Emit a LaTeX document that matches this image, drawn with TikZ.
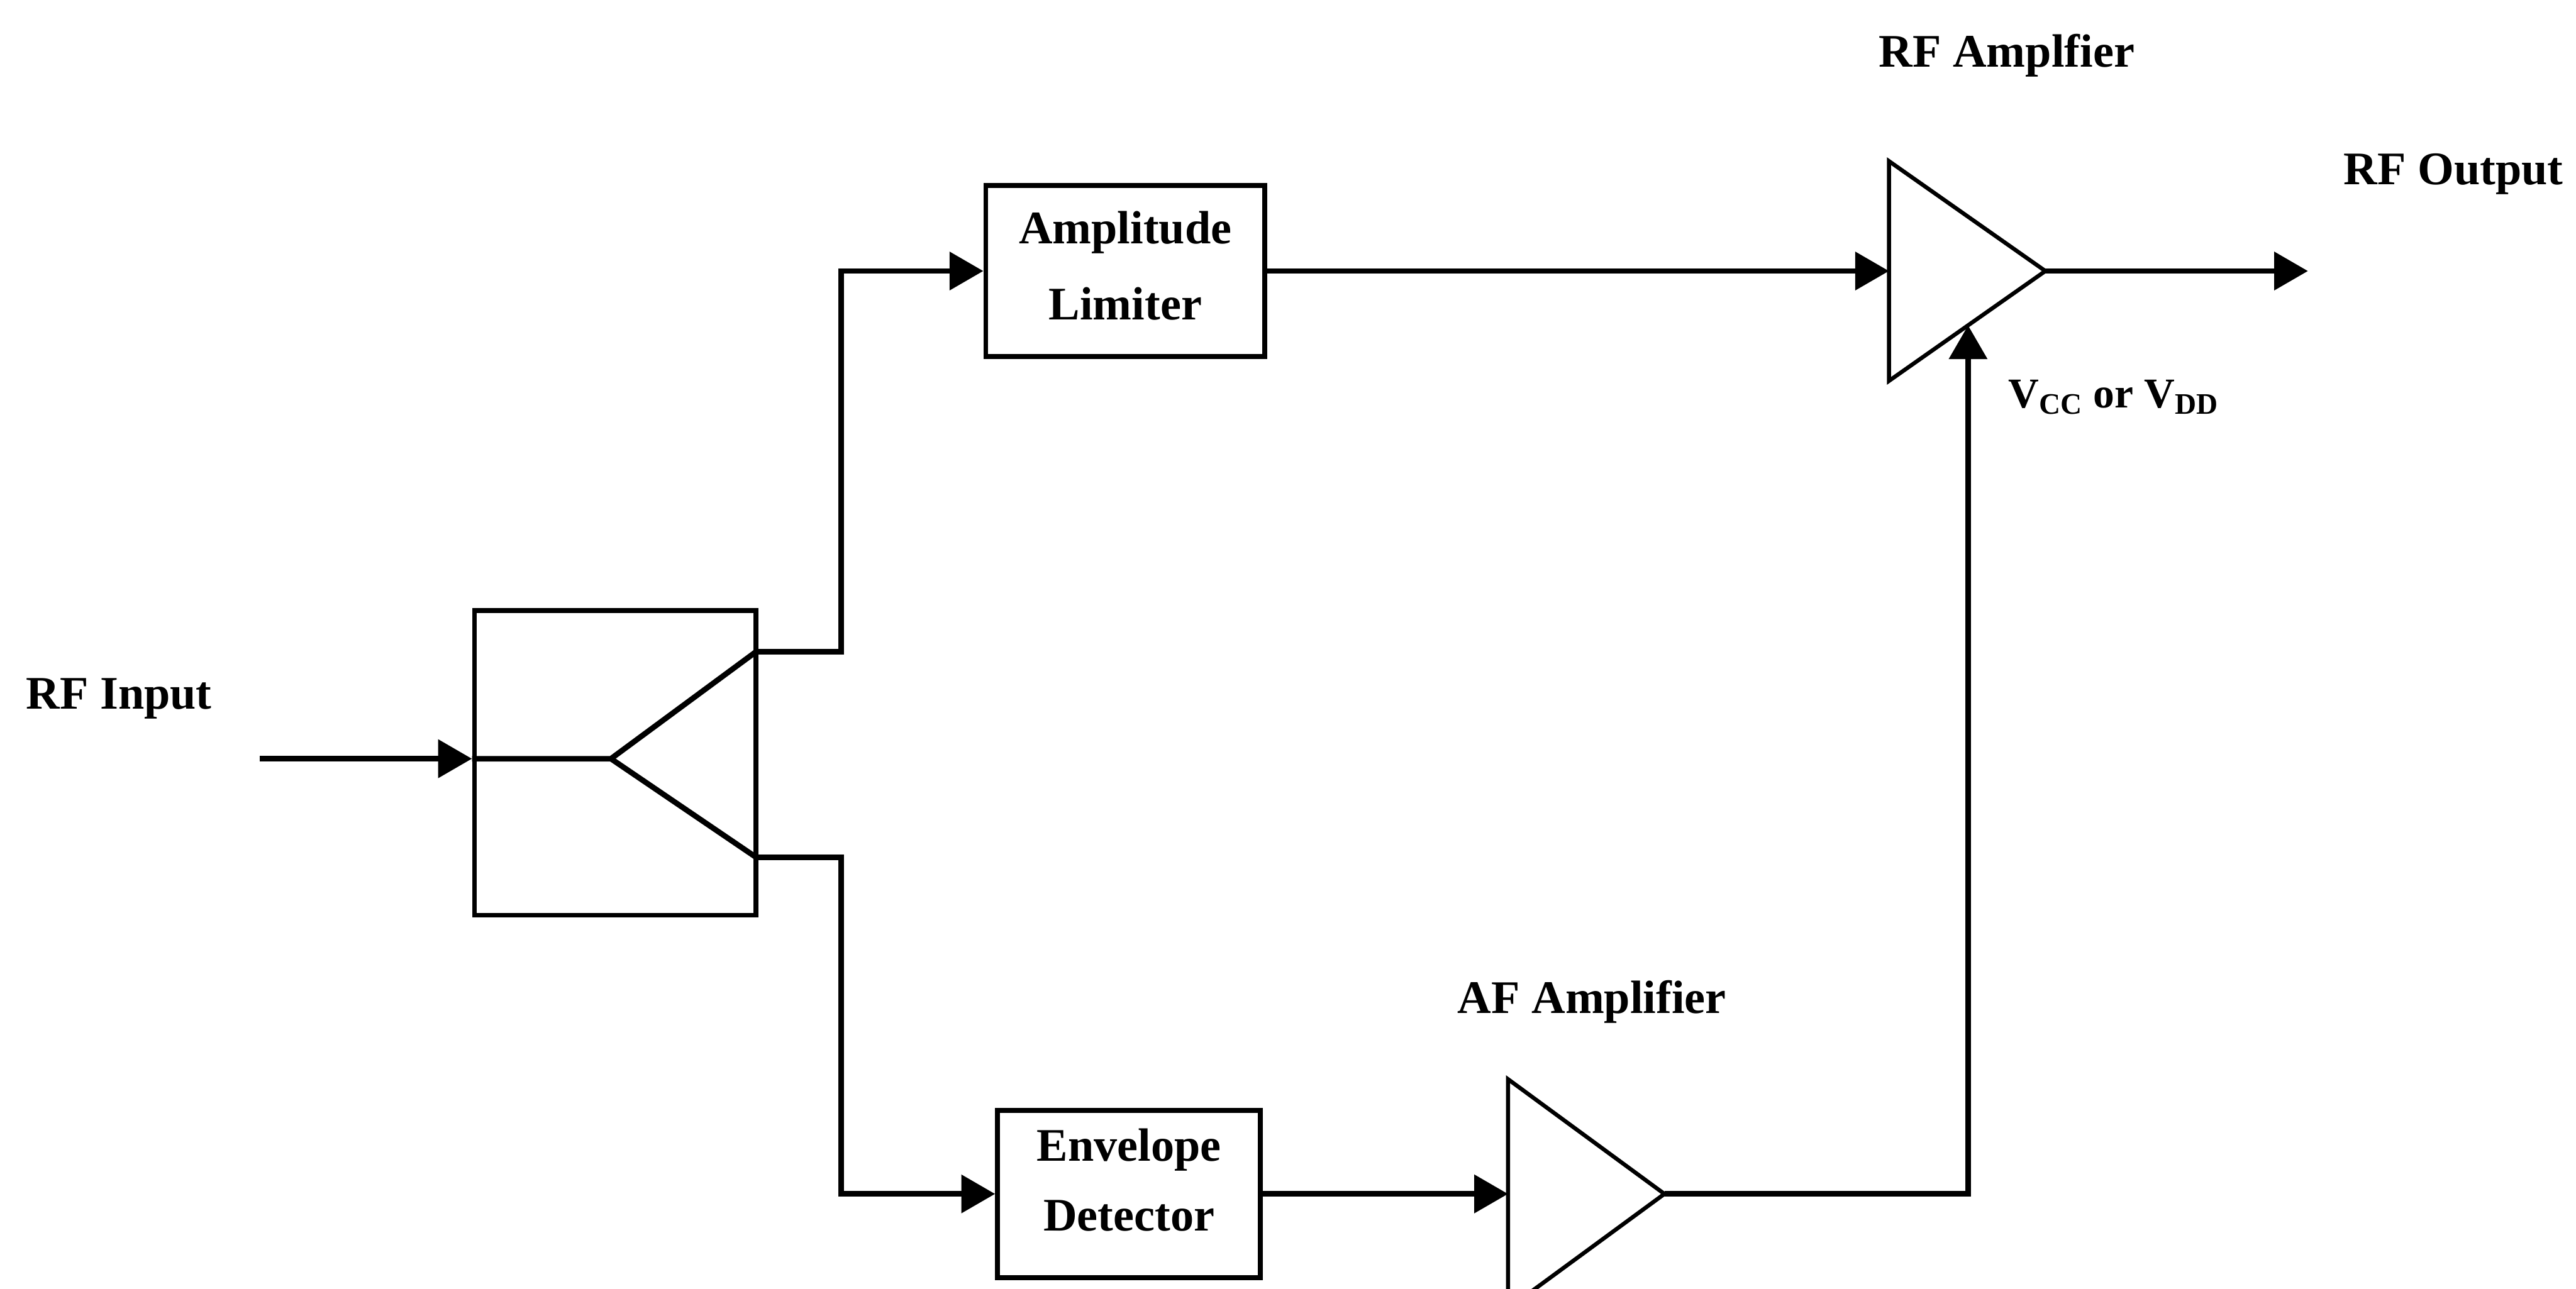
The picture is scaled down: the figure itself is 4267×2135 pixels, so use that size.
\documentclass[tikz,border=0pt]{standalone}
\usepackage{fontspec}
\setmainfont{Liberation Serif}
\usetikzlibrary{arrows.meta}
\begin{document}
\begin{tikzpicture}[x=0.01cm,y=-0.01cm,
  wire/.style={line width=2.6pt, line join=miter},
  arr/.style={wire,-{Triangle[length=5.6mm,width=6.2mm]}},
  blk/.style={draw, line width=2.3pt, inner sep=0pt, align=center,
    font=\fontsize{22}{36}\selectfont\bfseries},
  tri/.style={draw, line width=1.9pt, line join=miter},
  lbl/.style={inner sep=0pt, font=\fontsize{22}{26}\selectfont\bfseries}
]
\useasboundingbox (0,0) rectangle (4267,2135);

% blocks
\node[blk, minimum width=4.66cm, minimum height=5.04cm] (split) at (1019,1264) {};
\node[blk, minimum width=4.62cm, minimum height=2.83cm] (lim) at (1864,449) {};
\node[blk, minimum width=4.35cm, minimum height=2.77cm] (env) at (1870,1978) {};
\node[lbl, align=center, font=\fontsize{22}{36}\selectfont\bfseries] (lim-t) at (1864,440) {Amplitude\\Limiter};
\node[lbl, align=center, font=\fontsize{22}{33}\selectfont\bfseries] (env-t) at (1870,1955) {Envelope\\Detector};

% amplifier triangles
\draw[tri] (3129,267) -- (3129,631) -- (3388,449) -- cycle;
\coordinate (rfa-in) at (3129,449);
\coordinate (rfa-out) at (3388,449);
\coordinate (rfa-bias) at (3260,539);
\draw[tri] (2498,1788) -- (2498,2168) -- (2757,1978) -- cycle;
\coordinate (afa-in) at (2498,1978);
\coordinate (afa-out) at (2757,1978);

% splitter internals
\coordinate (rfin) at (430,1257);
\coordinate (j) at (1012,1257);
\coordinate (up) at (1252,1080);
\coordinate (dn) at (1252,1420);
\coordinate (rfout) at (3823,449);

% connectors
\draw[arr] (rfin) -- (rfin -| split.west);
\draw[wire] (rfin -| split.west) -- (j) -- (up);
\draw[wire] (j) -- (dn);
\draw[arr] (up) -- (1393,1080) |- (lim.west);
\draw[arr] (dn) -- (1393,1420) |- (env.west);
\draw[arr] (env.east) -- (afa-in);
\draw[arr] (lim.east) -- (rfa-in);
\draw[arr] (afa-out) -| (rfa-bias);
\draw[arr] (rfa-out) -- (rfout);

% labels
\node[lbl] (l-rfin) at (197,1157) {RF Input};
\node[lbl] (l-rfamp) at (3324,92) {RF Amplfier};
\node[lbl] (l-rfout) at (4064,288) {RF Output};
\node[lbl] (l-afamp) at (2637,1660) {AF Amplifier};
\node[lbl, font=\fontsize{20}{24}\selectfont\bfseries] (l-vcc) at (3501,658) {V\textsubscript{CC} or V\textsubscript{DD}};
\end{tikzpicture}
\end{document}
